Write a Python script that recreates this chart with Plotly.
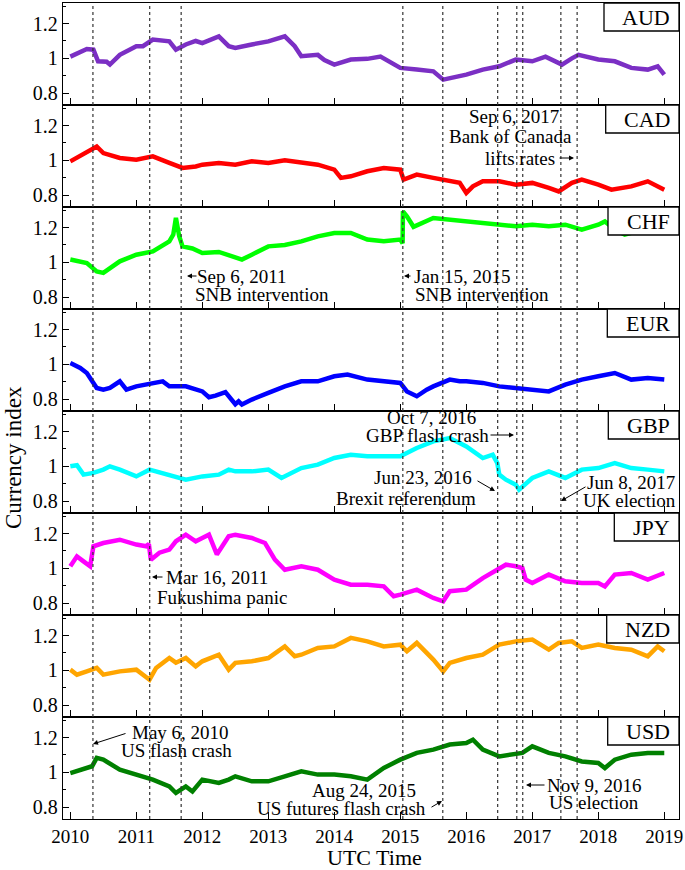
import datetime as dt
import plotly.graph_objects as go
from plotly.subplots import make_subplots

# ---------------- data ----------------
currencies = ["AUD", "CAD", "CHF", "EUR", "GBP", "JPY", "NZD", "USD"]
line_colors = ["#7b2fc4", "#ff0000", "#00ff00", "#0000ff", "#00ffff", "#ff00ff", "#ffa500", "#008000"]

AUD_t = [2010.0, 2010.25, 2010.35, 2010.42, 2010.55, 2010.6, 2010.75, 2011.0, 2011.1, 2011.25, 2011.5, 2011.6,
         2011.75, 2011.9, 2012.0, 2012.25, 2012.4, 2012.5, 2012.75, 2013.0, 2013.25, 2013.4, 2013.5, 2013.75,
         2013.85, 2014.0, 2014.25, 2014.5, 2014.7, 2014.9, 2015.0, 2015.25, 2015.5, 2015.65, 2015.75, 2016.0,
         2016.25, 2016.5, 2016.75, 2017.0, 2017.2, 2017.45, 2017.6, 2017.7, 2018.0, 2018.25, 2018.5, 2018.75,
         2018.9, 2019.0]
AUD_v = [1.01, 1.054, 1.05, 0.983, 0.98, 0.964, 1.02, 1.07, 1.07, 1.108, 1.098, 1.05,
         1.08, 1.1, 1.088, 1.127, 1.07, 1.06, 1.08, 1.098, 1.127, 1.07, 1.012, 1.02,
         0.99, 0.964, 0.993, 0.997, 1.01, 0.964, 0.945, 0.935, 0.925, 0.877, 0.885, 0.906,
         0.935, 0.954, 0.993, 0.983, 1.01, 0.964, 1.0, 1.02, 0.993, 0.983, 0.945, 0.935,
         0.954, 0.906]

CAD_t = [2010.0, 2010.25, 2010.4, 2010.5, 2010.75, 2011.0, 2011.25, 2011.5, 2011.7, 2011.9, 2012.0, 2012.25,
         2012.5, 2012.75, 2013.0, 2013.25, 2013.5, 2013.75, 2014.0, 2014.1, 2014.25, 2014.5, 2014.75, 2015.0,
         2015.05, 2015.25, 2015.5, 2015.75, 2015.9, 2016.0, 2016.1, 2016.25, 2016.5, 2016.75, 2017.0, 2017.25,
         2017.4, 2017.6, 2017.75, 2018.0, 2018.2, 2018.5, 2018.75, 2019.0]
CAD_v = [0.994, 1.052, 1.08, 1.042, 1.014, 1.004, 1.023, 0.985, 0.956, 0.965, 0.975, 0.985,
         0.975, 0.994, 0.985, 1.0, 0.985, 0.975, 0.946, 0.899, 0.908, 0.937, 0.956, 0.946,
         0.889, 0.918, 0.899, 0.879, 0.87, 0.812, 0.85, 0.879, 0.879, 0.86, 0.87, 0.841,
         0.821, 0.87, 0.889, 0.86, 0.831, 0.85, 0.879, 0.831]

CHF_t = [2010.0, 2010.25, 2010.4, 2010.5, 2010.75, 2011.0, 2011.25, 2011.5, 2011.56, 2011.6, 2011.65, 2011.7,
         2011.85, 2012.0, 2012.25, 2012.5, 2012.6, 2012.75, 2013.0, 2013.25, 2013.5, 2013.75, 2014.0, 2014.25,
         2014.5, 2014.75, 2015.0, 2015.035, 2015.04, 2015.1, 2015.2, 2015.5, 2015.75, 2016.0, 2016.25, 2016.5,
         2016.75, 2017.0, 2017.25, 2017.5, 2017.75, 2018.0, 2018.1, 2018.25, 2018.4, 2018.6, 2018.8, 2019.0]
CHF_v = [1.016, 0.996, 0.948, 0.939, 1.006, 1.044, 1.063, 1.121, 1.16, 1.256, 1.15, 1.092,
         1.08, 1.054, 1.06, 1.025, 1.016, 1.044, 1.092, 1.1, 1.121, 1.15, 1.169, 1.169,
         1.131, 1.121, 1.131, 1.11, 1.294, 1.265, 1.205, 1.256, 1.246, 1.236, 1.227, 1.217,
         1.208, 1.217, 1.208, 1.217, 1.188, 1.217, 1.236, 1.19, 1.16, 1.18, 1.2, 1.2]

EUR_t = [2010.0, 2010.15, 2010.25, 2010.4, 2010.5, 2010.6, 2010.75, 2010.85, 2011.0, 2011.25, 2011.4, 2011.5,
         2011.75, 2012.0, 2012.1, 2012.2, 2012.35, 2012.5, 2012.55, 2012.6, 2012.75, 2013.0, 2013.25, 2013.5,
         2013.75, 2014.0, 2014.2, 2014.5, 2014.75, 2015.0, 2015.1, 2015.25, 2015.4, 2015.5, 2015.75, 2015.9,
         2016.0, 2016.25, 2016.5, 2016.75, 2017.0, 2017.25, 2017.5, 2017.75, 2018.0, 2018.25, 2018.5, 2018.75,
         2019.0]
EUR_v = [1.008, 0.979, 0.95, 0.864, 0.854, 0.864, 0.902, 0.854, 0.873, 0.893, 0.902, 0.873,
         0.873, 0.844, 0.81, 0.82, 0.84, 0.77, 0.787, 0.768, 0.797, 0.835, 0.873, 0.902,
         0.902, 0.931, 0.941, 0.912, 0.902, 0.893, 0.844, 0.816, 0.854, 0.873, 0.912, 0.902,
         0.902, 0.893, 0.873, 0.864, 0.854, 0.844, 0.883, 0.912, 0.931, 0.95, 0.912, 0.921,
         0.912]

GBP_t = [2010.0, 2010.1, 2010.2, 2010.35, 2010.5, 2010.6, 2010.75, 2011.0, 2011.2, 2011.5, 2011.75, 2012.0,
         2012.25, 2012.4, 2012.5, 2012.75, 2013.0, 2013.2, 2013.5, 2013.75, 2014.0, 2014.25, 2014.5, 2014.75,
         2015.0, 2015.25, 2015.5, 2015.75, 2016.0, 2016.25, 2016.4, 2016.47, 2016.5, 2016.6, 2016.75, 2016.8,
         2017.0, 2017.25, 2017.4, 2017.5, 2017.75, 2018.0, 2018.25, 2018.5, 2018.75, 2019.0]
GBP_v = [1.0, 1.006, 0.952, 0.962, 0.981, 1.0, 0.981, 0.942, 0.981, 0.952, 0.923, 0.942,
         0.952, 0.981, 0.971, 0.971, 0.981, 0.933, 0.99, 1.01, 1.048, 1.067, 1.058, 1.058,
         1.058, 1.106, 1.144, 1.163, 1.115, 1.048, 1.067, 1.019, 0.952, 0.923, 0.894, 0.866,
         0.933, 0.971, 0.952, 0.933, 0.981, 0.99, 1.019, 0.99, 0.981, 0.971]

JPY_t = [2010.0, 2010.1, 2010.2, 2010.3, 2010.35, 2010.5, 2010.75, 2011.0, 2011.15, 2011.19, 2011.22, 2011.35,
         2011.5, 2011.6, 2011.75, 2011.9, 2012.0, 2012.1, 2012.22, 2012.4, 2012.5, 2012.75, 2012.95, 2013.1,
         2013.25, 2013.5, 2013.75, 2014.0, 2014.25, 2014.5, 2014.75, 2014.9, 2015.0, 2015.25, 2015.5, 2015.65,
         2015.75, 2016.0, 2016.25, 2016.45, 2016.6, 2016.75, 2016.85, 2016.9, 2017.0, 2017.25, 2017.5, 2017.75,
         2018.0, 2018.1, 2018.25, 2018.5, 2018.75, 2019.0]
JPY_v = [1.012, 1.069, 1.04, 1.012, 1.127, 1.146, 1.165, 1.137, 1.127, 1.14, 1.05, 1.09,
         1.108, 1.156, 1.194, 1.156, 1.175, 1.194, 1.08, 1.185, 1.194, 1.175, 1.146, 1.05,
         0.992, 1.012, 0.992, 0.935, 0.906, 0.906, 0.896, 0.839, 0.848, 0.877, 0.829, 0.81,
         0.868, 0.877, 0.944, 0.992, 1.021, 1.012, 1.002, 0.935, 0.916, 0.964, 0.925, 0.916,
         0.916, 0.896, 0.964, 0.973, 0.935, 0.973]

NZD_t = [2010.0, 2010.1, 2010.25, 2010.4, 2010.5, 2010.75, 2011.0, 2011.2, 2011.3, 2011.5, 2011.6, 2011.75,
         2011.9, 2012.0, 2012.25, 2012.4, 2012.5, 2012.75, 2013.0, 2013.25, 2013.4, 2013.5, 2013.75, 2014.0,
         2014.25, 2014.5, 2014.75, 2015.0, 2015.1, 2015.25, 2015.5, 2015.65, 2015.75, 2016.0, 2016.25, 2016.5,
         2016.75, 2017.0, 2017.25, 2017.4, 2017.6, 2017.75, 2018.0, 2018.25, 2018.5, 2018.75, 2018.9, 2019.0]
NZD_v = [1.004, 0.975, 0.994, 1.014, 0.975, 0.994, 1.004, 0.946, 1.014, 1.071, 1.044, 1.071,
         1.023, 1.052, 1.09, 1.004, 1.043, 1.052, 1.071, 1.138, 1.081, 1.09, 1.129, 1.138,
         1.187, 1.167, 1.138, 1.148, 1.11, 1.158, 1.062, 0.994, 1.043, 1.071, 1.09, 1.148,
         1.167, 1.177, 1.119, 1.158, 1.167, 1.129, 1.148, 1.129, 1.119, 1.081, 1.138, 1.11]

USD_t = [2010.0, 2010.25, 2010.33, 2010.4, 2010.5, 2010.75, 2011.0, 2011.25, 2011.5, 2011.6, 2011.75, 2011.85,
         2012.0, 2012.25, 2012.4, 2012.5, 2012.75, 2013.0, 2013.25, 2013.5, 2013.75, 2014.0, 2014.25, 2014.5,
         2014.75, 2015.0, 2015.25, 2015.5, 2015.75, 2016.0, 2016.1, 2016.25, 2016.5, 2016.75, 2016.85, 2017.0,
         2017.25, 2017.5, 2017.75, 2018.0, 2018.1, 2018.25, 2018.5, 2018.75, 2019.0]
USD_v = [0.996, 1.025, 1.035, 1.083, 1.073, 1.016, 0.987, 0.958, 0.919, 0.881, 0.919, 0.89,
         0.958, 0.939, 0.958, 0.977, 0.948, 0.948, 0.977, 1.006, 0.987, 0.987, 0.977, 0.958,
         1.025, 1.073, 1.112, 1.131, 1.16, 1.169, 1.188, 1.131, 1.092, 1.102, 1.112, 1.15,
         1.112, 1.092, 1.063, 1.054, 1.025, 1.073, 1.102, 1.112, 1.112]

event_dates = ["2010-05-06", "2011-03-16", "2011-09-06", "2015-01-15", "2015-08-24",
               "2016-06-23", "2016-10-07", "2016-11-09", "2017-06-08", "2017-09-06"]

year_ticks = [2010, 2011, 2012, 2013, 2014, 2015, 2016, 2017, 2018, 2019]
y_tickvals = [0.8, 1.0, 1.2]
y_ticktext = ["0.8", "1", "1.2"]
y_minor = [0.9, 1.1, 1.3]

series = {
    "AUD": (AUD_t, AUD_v), "CAD": (CAD_t, CAD_v), "CHF": (CHF_t, CHF_v), "EUR": (EUR_t, EUR_v),
    "GBP": (GBP_t, GBP_v), "JPY": (JPY_t, JPY_v), "NZD": (NZD_t, NZD_v), "USD": (USD_t, USD_v),
}


def dec_year(s):
    d = dt.date.fromisoformat(s)
    start = dt.date(d.year, 1, 1)
    n = (dt.date(d.year + 1, 1, 1) - start).days
    return d.year + (d - start).days / n


# ---------------- layout geometry (pixels) ----------------
W, H = 685, 870
ML, MR, MT, MB = 63, 6, 3, 51
PW, PH = W - ML - MR, H - MT - MB
FONT = "Liberation Serif"


def xp(px):
    return (px - ML) / PW


def yp(py):
    return (MT + PH - py) / PH


fig = make_subplots(rows=8, cols=1, shared_xaxes=True, vertical_spacing=0)

for i, cur in enumerate(currencies):
    t, v = series[cur]
    fig.add_trace(go.Scatter(x=t, y=v, mode="lines", name=cur,
                             line=dict(color=line_colors[i], width=4.5),
                             showlegend=False, hoverinfo="skip"), row=i + 1, col=1)

axis_common = dict(showline=True, linecolor="black", linewidth=1.3, mirror=True,
                   showgrid=False, zeroline=False, ticks="inside", tickcolor="black")

for i in range(8):
    fig.update_xaxes(range=[2009.889, 2019.223], tickvals=year_ticks, ticklen=7, tickwidth=1.2,
                     showticklabels=(i == 7), tickfont=dict(family=FONT, size=19, color="black"),
                     **axis_common, row=i + 1, col=1)
    fig.update_yaxes(range=[0.731, 1.319], tickvals=y_tickvals, ticktext=y_ticktext, ticklen=6,
                     tickwidth=1.2, tickfont=dict(family=FONT, size=20, color="black"),
                     minor=dict(tickvals=y_minor, ticks="inside", ticklen=3, tickcolor="black", tickwidth=1),
                     **axis_common, row=i + 1, col=1)

shapes = []
for d in event_dates:
    x = dec_year(d)
    shapes.append(dict(type="line", xref="x8", yref="paper", x0=x, x1=x, y0=0, y1=1,
                       line=dict(color="#333333", width=1.2, dash="dot"), layer="above"))

# label boxes
box_left = {"AUD": 604, "CAD": 605.7, "CHF": 608, "EUR": 607.3, "GBP": 608.3, "JPY": 614.3,
            "NZD": 606.7, "USD": 607.7}
annotations = []
panel_h = PH / 8
for i, cur in enumerate(currencies):
    top = MT + i * panel_h
    shapes.append(dict(type="rect", xref="paper", yref="paper", x0=xp(box_left[cur]), x1=1,
                       y0=yp(top + 28), y1=yp(top), fillcolor="white",
                       line=dict(color="black", width=1.3), layer="above"))
    annotations.append(dict(text=cur, xref="paper", yref="paper", x=1, y=yp(top + 14.5),
                            xanchor="right", yanchor="middle", xshift=-7, showarrow=False,
                            font=dict(family=FONT, size=22, color="black")))

# text annotations (text, center x px, center y px)
texts = [
    ("Sep 6, 2017", 513.5, 117), ("Bank of Canada", 510, 137), ("lifts rates", 520, 158),
    ("Sep 6, 2011", 242, 276), ("SNB intervention", 261.5, 295),
    ("Jan 15, 2015", 462.5, 276), ("SNB intervention", 481.5, 295),
    ("Oct 7, 2016", 431, 417), ("GBP flash crash", 427, 435),
    ("Jun 23, 2016", 423, 478), ("Brexit referendum", 406, 498),
    ("Jun 8, 2017", 630.5, 482), ("UK election", 629, 500),
    ("Mar 16, 2011", 216.5, 577), ("Fukushima panic", 221.7, 597),
    ("May 6, 2010", 180, 732), ("US flash crash", 176.7, 750),
    ("Aug 24, 2015", 364, 790), ("US futures flash crash", 341.7, 808),
    ("Nov 9, 2016", 594, 785), ("US election", 594, 802),
]
for s, cx, cy in texts:
    annotations.append(dict(text=s, xref="paper", yref="paper", x=xp(cx), y=yp(cy),
                            xanchor="center", yanchor="middle", showarrow=False,
                            font=dict(family=FONT, size=19, color="black")))

# arrows (tail x, tail y, head x, head y) in px
arrows = [
    (558, 158, 574, 158),
    (198, 276, 187, 276),
    (412, 276, 404, 276),
    (489, 435, 514, 435),
    (476, 480, 495, 491),
    (587, 486, 561, 501),
    (164, 577, 152, 577),
    (127, 733, 93, 744),
    (430, 808, 442, 801),
    (546, 785, 526, 785),
]
for tx, ty, hx, hy in arrows:
    annotations.append(dict(text="", xref="paper", yref="paper", x=xp(hx), y=yp(hy),
                            ax=tx - hx, ay=ty - hy, showarrow=True, arrowhead=2, arrowsize=1,
                            arrowwidth=1, arrowcolor="black", standoff=0, startstandoff=0))

# axis titles
annotations.append(dict(text="Currency index", xref="paper", yref="paper", x=xp(13), y=yp(458),
                        textangle=-90, xanchor="center", yanchor="middle", showarrow=False,
                        font=dict(family=FONT, size=23, color="black")))
annotations.append(dict(text="UTC Time", xref="paper", yref="paper", x=xp(374), y=yp(857),
                        xanchor="center", yanchor="middle", showarrow=False,
                        font=dict(family=FONT, size=22, color="black")))

fig.update_layout(width=W, height=H, margin=dict(l=ML, r=MR, t=MT, b=MB),
                  paper_bgcolor="white", plot_bgcolor="white",
                  font=dict(family=FONT, color="black"),
                  shapes=shapes, annotations=annotations, showlegend=False)

fig.write_html("out.html", config={"displayModeBar": False},
               post_script="document.body.style.margin='0px';document.body.style.overflow='hidden';")
